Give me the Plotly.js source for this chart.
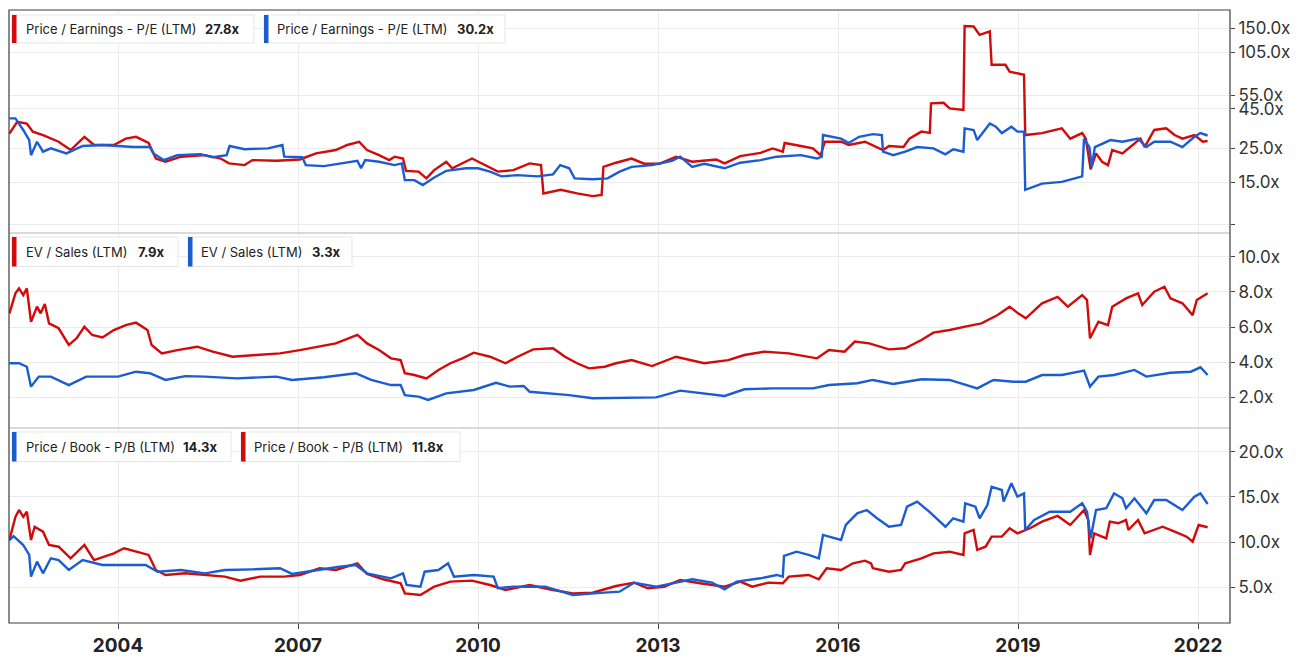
<!DOCTYPE html>
<html>
<head>
<meta charset="utf-8">
<script src="https://cdn.plot.ly/plotly-3.0.1.min.js"></script>
<style>
  html, body { margin: 0; padding: 0; background: #fff; }
  #chart { width: 1300px; height: 659px; }
</style>
</head>
<body>
<div id="chart"></div>
<script>
// values, x in decimal years

// Price / Earnings
var peRedT = [2002.19,2002.32,2002.48,2002.58,2002.75,2003.01,2003.21,2003.44,2003.60,2003.93,2004.13,2004.30,2004.51,2004.63,2004.79,2005.05,2005.45,2005.71,2005.85,2006.11,2006.24,2006.64,2007.03,2007.30,2007.63,2007.82,2008.02,2008.15,2008.35,2008.52,2008.61,2008.75,2008.80,2009.01,2009.14,2009.27,2009.47,2009.57,2009.90,2010.06,2010.33,2010.59,2010.86,2011.05,2011.09,2011.38,2011.65,2011.91,2012.06,2012.09,2012.30,2012.56,2012.77,2013.03,2013.30,2013.57,2013.97,2014.11,2014.37,2014.71,2014.91,2015.08,2015.11,2015.38,2015.58,2015.71,2015.78,2016.05,2016.18,2016.45,2016.65,2016.75,2016.85,2017.09,2017.19,2017.39,2017.53,2017.55,2017.76,2017.86,2018.09,2018.11,2018.26,2018.36,2018.53,2018.56,2018.79,2018.86,2019.10,2019.12,2019.40,2019.73,2019.87,2020.07,2020.13,2020.21,2020.30,2020.40,2020.50,2020.57,2020.74,2020.87,2021.04,2021.11,2021.27,2021.47,2021.61,2021.74,2021.94,2022.08,2022.16];
var peRedV = [31.1,37.1,36.1,32.0,30.4,27.5,24.3,29.6,26.2,26.2,28.8,29.6,27.0,21.4,20.4,22.0,22.5,21.4,19.9,19.4,20.9,20.7,21.1,23.1,24.3,26.2,27.5,24.3,22.5,20.9,22.0,21.4,17.8,17.6,15.9,18.0,20.4,18.5,21.4,19.9,17.6,18.0,19.9,19.4,12.7,13.4,12.7,12.2,12.4,18.9,20.1,21.4,19.8,19.8,22.0,20.4,21.1,19.9,22.2,23.3,24.9,23.7,27.0,25.8,24.9,22.5,27.5,27.5,26.2,27.5,25.4,24.3,25.8,25.4,28.8,32.0,31.4,48.8,49.2,45.3,44.2,155,154,136,143,86.9,86.9,78.4,74.8,30.4,31.3,33.6,28.8,31.3,28.8,18.2,23.1,20.4,19.4,24.3,23.1,25.4,28.8,25.4,32.8,33.6,30.4,28.8,30.4,27.5,27.8];

var peBlueT = [2002.19,2002.29,2002.42,2002.52,2002.55,2002.65,2002.75,2002.88,2003.14,2003.41,2003.74,2004.00,2004.26,2004.53,2004.59,2004.76,2004.99,2005.38,2005.58,2005.81,2005.86,2006.11,2006.50,2006.74,2006.77,2007.07,2007.13,2007.43,2007.69,2007.99,2008.05,2008.12,2008.35,2008.61,2008.73,2008.78,2008.94,2009.08,2009.27,2009.47,2009.80,2010.00,2010.20,2010.39,2010.66,2010.99,2011.25,2011.37,2011.52,2011.61,2011.91,2012.16,2012.36,2012.56,2012.90,2013.23,2013.37,2013.57,2013.77,2014.11,2014.37,2014.71,2014.98,2015.38,2015.65,2015.73,2015.75,2016.05,2016.18,2016.35,2016.58,2016.73,2016.75,2016.92,2017.12,2017.32,2017.59,2017.79,2017.92,2018.09,2018.11,2018.26,2018.32,2018.53,2018.63,2018.73,2018.89,2018.99,2019.10,2019.12,2019.40,2019.73,2020.07,2020.10,2020.19,2020.23,2020.28,2020.54,2020.74,2021.00,2021.14,2021.27,2021.54,2021.74,2021.94,2022.04,2022.16];
var peBlueV = [39.0,39.0,32.8,28.2,22.5,27.5,23.7,24.9,23.1,25.8,26.2,25.8,25.4,25.4,23.1,20.9,22.5,22.8,21.8,22.5,25.8,24.6,24.9,26.2,22.0,21.8,19.4,19.1,19.9,20.7,18.5,20.9,20.4,19.4,19.9,15.5,15.5,14.4,16.1,17.8,18.5,18.5,17.6,16.4,16.7,16.4,16.9,19.4,18.5,15.9,15.7,15.9,17.6,18.9,19.4,20.7,22.0,18.9,19.8,18.5,20.1,20.9,22.0,22.5,21.4,22.0,30.4,28.8,27.0,29.6,30.8,30.4,23.7,22.5,23.7,25.4,24.9,22.8,24.6,23.7,33.6,32.8,28.2,36.1,34.4,31.3,34.4,32.0,32.0,13.4,14.7,15.1,16.4,28.8,25.4,18.9,25.4,28.2,27.5,28.8,25.4,27.5,27.5,25.4,29.6,31.3,30.2];

// EV / Sales
var evRedT = [2002.19,2002.29,2002.35,2002.42,2002.48,2002.55,2002.65,2002.71,2002.78,2002.85,2003.01,2003.18,2003.31,2003.44,2003.57,2003.74,2003.93,2004.13,2004.30,2004.49,2004.56,2004.73,2004.99,2005.32,2005.58,2005.91,2006.31,2006.70,2007.03,2007.30,2007.63,2007.99,2008.15,2008.35,2008.55,2008.71,2008.78,2008.94,2009.14,2009.34,2009.54,2009.74,2009.93,2010.20,2010.46,2010.66,2010.92,2011.25,2011.45,2011.65,2011.85,2012.11,2012.30,2012.56,2012.90,2013.30,2013.77,2014.17,2014.44,2014.77,2015.18,2015.65,2015.85,2016.11,2016.28,2016.52,2016.85,2017.12,2017.39,2017.59,2017.86,2018.12,2018.39,2018.66,2018.86,2019.00,2019.13,2019.40,2019.66,2019.83,2020.07,2020.15,2020.20,2020.34,2020.50,2020.57,2020.80,2021.00,2021.07,2021.27,2021.44,2021.54,2021.74,2021.91,2021.98,2022.16];
var evRedV = [6.78,7.92,8.2,7.82,8.2,6.3,7.16,6.78,7.31,6.21,5.93,4.98,5.36,6.02,5.55,5.41,5.83,6.11,6.25,5.83,4.98,4.5,4.69,4.88,4.6,4.31,4.41,4.5,4.69,4.85,5.07,5.55,5.07,4.69,4.22,4.12,3.37,3.27,3.08,3.56,3.94,4.22,4.54,4.31,3.94,4.31,4.73,4.79,4.31,3.94,3.65,3.74,3.94,4.12,3.78,4.31,3.94,4.12,4.41,4.6,4.5,4.22,4.69,4.6,5.17,5.07,4.73,4.79,5.26,5.68,5.83,6.02,6.21,6.68,7.16,6.78,6.5,7.35,7.72,7.16,7.82,7.54,5.36,6.3,6.11,7.16,7.63,7.92,7.25,8.01,8.29,7.63,7.35,6.68,7.54,7.92];

var evBlueT = [2002.19,2002.35,2002.48,2002.55,2002.68,2002.88,2003.18,2003.47,2004.00,2004.30,2004.53,2004.79,2005.12,2005.45,2005.98,2006.64,2006.90,2007.43,2007.96,2008.22,2008.55,2008.71,2008.78,2009.01,2009.17,2009.47,2009.93,2010.30,2010.53,2010.76,2010.86,2011.25,2011.52,2011.91,2012.36,2012.97,2013.37,2013.77,2014.11,2014.44,2014.91,2015.58,2015.85,2016.32,2016.58,2016.92,2017.39,2017.86,2018.32,2018.59,2018.93,2019.13,2019.40,2019.73,2020.10,2020.20,2020.34,2020.60,2020.94,2021.14,2021.54,2021.88,2022.04,2022.16];
var evBlueV = [3.94,3.94,3.74,2.61,3.18,3.18,2.7,3.18,3.18,3.46,3.37,2.99,3.21,3.18,3.08,3.18,2.99,3.14,3.37,2.99,2.7,2.7,2.13,2.04,1.85,2.23,2.42,2.83,2.61,2.65,2.32,2.23,2.13,1.95,1.97,2.0,2.38,2.23,2.08,2.46,2.51,2.51,2.7,2.8,2.99,2.76,3.03,2.99,2.51,2.99,2.89,2.89,3.27,3.27,3.52,2.61,3.18,3.27,3.56,3.18,3.4,3.46,3.71,3.27];

// Price / Book
var pbBlueT = [2002.19,2002.26,2002.42,2002.52,2002.55,2002.65,2002.75,2002.88,2003.01,2003.18,2003.41,2003.74,2004.13,2004.46,2004.66,2005.05,2005.45,2005.78,2006.24,2006.70,2006.90,2007.30,2007.69,2007.96,2008.15,2008.55,2008.75,2008.81,2009.04,2009.11,2009.34,2009.50,2009.60,2009.93,2010.26,2010.33,2010.59,2011.12,2011.58,2012.04,2012.36,2012.60,2012.97,2013.30,2013.57,2013.90,2014.11,2014.31,2014.71,2014.98,2015.08,2015.10,2015.31,2015.51,2015.68,2015.75,2016.05,2016.13,2016.32,2016.48,2016.65,2016.85,2017.05,2017.15,2017.32,2017.52,2017.79,2017.92,2018.09,2018.12,2018.29,2018.36,2018.49,2018.56,2018.73,2018.76,2018.89,2018.99,2019.10,2019.12,2019.27,2019.53,2019.87,2020.07,2020.15,2020.21,2020.30,2020.47,2020.60,2020.74,2020.80,2020.94,2021.14,2021.27,2021.47,2021.74,2021.94,2022.04,2022.16];
var pbBlueV = [10.24,10.68,9.69,8.59,6.19,7.85,6.56,8.22,8.03,6.93,8.03,7.48,7.48,7.48,6.74,6.93,6.56,6.93,7.0,7.12,6.49,6.93,7.29,7.48,6.56,6.01,6.56,5.27,5.08,6.74,6.93,7.67,6.19,6.38,6.19,4.91,5.08,5.08,4.17,4.4,4.53,5.53,5.08,5.53,5.9,5.53,4.8,5.64,6.01,6.38,6.19,8.48,8.95,8.59,8.22,10.8,10.24,11.9,13.19,13.56,12.64,11.71,11.9,13.92,14.48,13.37,11.71,12.64,12.27,14.3,13.92,12.64,14.11,16.13,15.77,14.48,16.51,15.03,15.4,11.35,12.45,13.37,13.37,14.3,13.37,10.43,13.56,13.75,15.4,14.85,13.75,14.85,13.19,14.66,14.66,13.56,15.03,15.4,14.22];

var pbRedT = [2002.19,2002.29,2002.35,2002.42,2002.48,2002.55,2002.61,2002.75,2002.85,2003.01,2003.21,2003.44,2003.60,2003.93,2004.10,2004.30,2004.51,2004.63,2004.79,2005.12,2005.45,2005.78,2006.04,2006.37,2006.77,2007.03,2007.36,2007.63,2007.99,2008.15,2008.42,2008.71,2008.78,2009.04,2009.27,2009.54,2009.90,2010.20,2010.46,2010.86,2011.25,2011.58,2011.91,2012.30,2012.60,2012.83,2013.10,2013.37,2013.70,2014.11,2014.37,2014.57,2014.84,2015.08,2015.18,2015.51,2015.68,2015.81,2016.05,2016.25,2016.45,2016.55,2016.58,2016.85,2017.05,2017.12,2017.39,2017.59,2017.86,2018.09,2018.11,2018.26,2018.32,2018.46,2018.56,2018.73,2018.86,2018.99,2019.20,2019.40,2019.66,2019.87,2020.10,2020.17,2020.20,2020.27,2020.47,2020.53,2020.67,2020.80,2020.84,2021.00,2021.11,2021.41,2021.61,2021.81,2021.91,2022.01,2022.16];
var pbRedV = [10.24,12.8,13.56,12.8,13.37,10.24,11.71,11.16,9.69,9.5,8.22,9.69,8.03,8.77,9.33,8.95,8.59,6.93,6.38,6.56,6.38,6.19,5.75,6.19,6.19,6.38,7.12,6.93,7.67,6.49,5.9,5.46,4.35,4.17,5.08,5.64,5.75,5.27,4.72,5.27,4.72,4.35,4.42,5.16,5.53,4.91,5.08,5.82,5.46,5.08,5.64,5.08,5.53,5.46,6.19,6.38,5.9,7.12,6.93,7.67,7.96,7.67,7.12,6.74,6.93,7.67,8.22,8.77,8.95,8.59,10.98,11.35,9.14,9.5,10.61,10.61,11.54,10.98,11.54,12.27,12.9,11.9,13.56,12.45,8.59,10.98,10.43,12.27,12.09,12.45,11.35,12.45,10.98,11.71,11.16,10.61,10.06,11.9,11.65];

var yearTicks = [2004, 2007, 2010, 2013, 2016, 2019, 2022];
var peTicks = [7, 8, 15, 25, 45, 55, 105, 150];
var peTickText = ['', '', '15.0x', '25.0x', '45.0x', '55.0x', '105.0x', '150.0x'];
var evTicks = [2, 4, 6, 8, 10];
var pbTicks = [5, 10, 15, 20];

var RED = '#d20a0a', BLUE = '#1a5cd1';

// plot area in pixels, used to place the legend boxes
var L = 9, T = 10, W = 1221, H = 613;
function fx(p) { return (p - L) / W; }
function fy(p) { return (T + H - p) / H; }

function line(t, v, color, ax) {
  return {x: t, y: v, yaxis: ax, type: 'scatter', mode: 'lines',
          line: {color: color, width: 2.4}, hoverinfo: 'skip', showlegend: false};
}

var data = [
  line(peRedT, peRedV, RED, 'y'),
  line(peBlueT, peBlueV, BLUE, 'y'),
  line(evRedT, evRedV, RED, 'y2'),
  line(evBlueT, evBlueV, BLUE, 'y2'),
  line(pbRedT, pbRedV, RED, 'y3'),
  line(pbBlueT, pbBlueV, BLUE, 'y3')
];

var fmt = function (a) { return a.map(function (v) { return v.toFixed(1) + 'x'; }); };

var yBase = {
  side: 'right', anchor: 'x', ticks: 'outside', ticklen: 4, tickcolor: '#444',
  tickfont: {family: 'Inter, Roboto, sans-serif', size: 17, color: '#333'},
  showgrid: true, gridcolor: '#ebebeb', gridwidth: 1, zeroline: false, showline: false,
  fixedrange: true
};

var layout = {
  width: 1300, height: 659,
  margin: {l: 9, r: 70, t: 10, b: 36},
  paper_bgcolor: '#fff', plot_bgcolor: '#fff',
  showlegend: false,
  xaxis: {
    type: 'linear', range: [2002.183, 2022.533], anchor: 'y3',
    tickvals: yearTicks, ticktext: yearTicks.map(String),
    ticks: 'outside', ticklen: 5, tickcolor: '#444',
    tickfont: {family: 'Inter, Roboto, sans-serif', size: 19, color: '#222', weight: 'bold'},
    showgrid: true, gridcolor: '#ebebeb', zeroline: false, showline: false, fixedrange: true
  },
  yaxis: Object.assign({}, yBase, {
    domain: [0.6362, 1], type: 'log', range: [0.8468, 2.2948],
    tickvals: peTicks, ticktext: peTickText
  }),
  yaxis2: Object.assign({}, yBase, {
    domain: [0.3181, 0.6362], range: [0.256, 11.35],
    tickvals: evTicks, ticktext: fmt(evTicks)
  }),
  yaxis3: Object.assign({}, yBase, {
    domain: [0, 0.3181], range: [1.07, 22.62],
    tickvals: pbTicks, ticktext: fmt(pbTicks)
  }),
  shapes: [],
  annotations: []
};

// frame and panel separators
layout.shapes.push({type: 'line', xref: 'paper', yref: 'paper', x0: 0, x1: 1, y0: 0.6362, y1: 0.6362, line: {color: '#cdcdcd', width: 1.5}});
layout.shapes.push({type: 'line', xref: 'paper', yref: 'paper', x0: 0, x1: 1, y0: 0.3181, y1: 0.3181, line: {color: '#cdcdcd', width: 1.5}});
layout.shapes.push({type: 'rect', xref: 'paper', yref: 'paper', x0: 0, x1: 1, y0: 0, y1: 1, line: {color: '#3c3c3c', width: 1.2}});

// legend boxes: [left, right, top, bottom, textX, valueX, label, value, colour]
var legendBoxes = [
  [12, 254, 15, 43, 24, 203, 'Price / Earnings - P/E (LTM)', '27.8x', RED],
  [264, 505, 15, 43, 275, 455, 'Price / Earnings - P/E (LTM)', '30.2x', BLUE],
  [12, 178, 237, 266.5, 24, 136, 'EV / Sales (LTM)', '7.9x', RED],
  [188, 352, 237, 266.5, 199, 310, 'EV / Sales (LTM)', '3.3x', BLUE],
  [12, 231, 432, 461.5, 24, 181, 'Price / Book - P/B (LTM)', '14.3x', BLUE],
  [241, 460, 432, 461.5, 252, 410, 'Price / Book - P/B (LTM)', '11.8x', RED]
];

legendBoxes.forEach(function (b) {
  layout.shapes.push({type: 'rect', xref: 'paper', yref: 'paper',
    x0: fx(b[0]), x1: fx(b[1]), y0: fy(b[3]), y1: fy(b[2]),
    fillcolor: '#fff', line: {color: '#e5e5e5', width: 1}});
  layout.shapes.push({type: 'rect', xref: 'paper', yref: 'paper',
    x0: fx(b[0]), x1: fx(b[0] + 4.5), y0: fy(b[3]), y1: fy(b[2]),
    fillcolor: b[8], line: {width: 0}});
  var mid = fy((b[2] + b[3]) / 2);
  layout.annotations.push({xref: 'paper', yref: 'paper', x: fx(b[4]), y: mid,
    xanchor: 'left', yanchor: 'middle', showarrow: false, text: b[6],
    font: {family: 'Inter, Roboto, sans-serif', size: 13, color: '#222'}});
  layout.annotations.push({xref: 'paper', yref: 'paper', x: fx(b[5]), y: mid,
    xanchor: 'left', yanchor: 'middle', showarrow: false, text: '<b>' + b[7] + '</b>',
    font: {family: 'Inter, Roboto, sans-serif', size: 13, color: '#222'}});
});

Plotly.newPlot('chart', data, layout, {displayModeBar: false, staticPlot: true});
</script>
</body>
</html>
